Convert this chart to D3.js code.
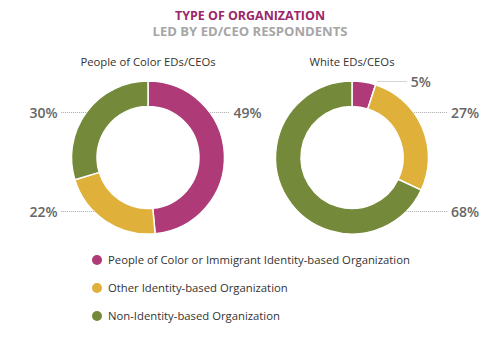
<!DOCTYPE html>
<html><head><meta charset="utf-8">
<script src="https://cdn.jsdelivr.net/npm/d3@7"></script>
<style>html,body{margin:0;padding:0;background:#fff;}svg{display:block;font-family:"Open Sans",sans-serif;}</style>
</head><body><svg id="c" width="500" height="360"></svg>
<script>
const categories = ["People of Color or Immigrant Identity-based Organization", "Other Identity-based Organization", "Non-Identity-based Organization"];
const groups = ["People of Color EDs/CEOs", "White EDs/CEOs"];
const pocValues = [49, 22, 30];
const whiteValues = [5, 27, 68];
const colors = ["#ae3a78", "#dfb03a", "#748a3a"];
const title = "TYPE OF ORGANIZATION";
const subtitle = "LED BY ED/CEO RESPONDENTS";

const svg = d3.select("#c");
svg.append("text").attr("x", 250).attr("y", 19.6).attr("text-anchor", "middle")
  .attr("font-size", 11.5).attr("font-weight", 700).attr("fill", "#9b2768")
  .attr("textLength", 150).attr("lengthAdjust", "spacingAndGlyphs").text(title);
svg.append("text").attr("x", 250).attr("y", 35.6).attr("text-anchor", "middle")
  .attr("font-size", 11.5).attr("font-weight", 700).attr("fill", "#a6a6a6")
  .attr("textLength", 195).attr("lengthAdjust", "spacingAndGlyphs").text(subtitle);

const color = d3.scaleOrdinal().domain(categories).range(colors);
const xPos = d3.scalePoint().domain(groups).range([148, 352]);
const cy = 157.5, R = 76.5, r = 51;
const pie = d3.pie().sort(null).value(d => d.v);
const arc = d3.arc().innerRadius(r).outerRadius(R);

[pocValues, whiteValues].forEach((vals, gi) => {
  const cx = xPos(groups[gi]);
  const g = svg.append("g").attr("transform", `translate(${cx},${cy})`);
  svg.append("text").attr("x", cx).attr("y", 66).attr("text-anchor", "middle")
    .attr("font-size", 11.3).attr("fill", "#333").text(groups[gi]);
  const arcs = pie(vals.map((v, i) => ({v, c: categories[i]})));
  g.selectAll("path").data(arcs).join("path")
    .attr("d", arc).attr("fill", d => color(d.data.c))
    .attr("stroke", "#fff").attr("stroke-width", 1.5);
  arcs.forEach(d => {
    const mid = (d.startAngle + d.endAngle) / 2;
    const raw = -Math.cos(mid) * 90;
    const dy = raw < -60 ? -76 : (raw < 0 ? -45 : 54);
    // right-hand chart keeps all labels on its outer (right) side
    const side = gi === 1 ? 1 : (Math.sin(mid) >= 0 ? 1 : -1);
    let sx, tx;
    if (Math.abs(dy) >= R - 2) {
      sx = R * Math.sin(d.endAngle) + 2;
      tx = sx + 33;
    } else {
      sx = side * Math.sqrt(R * R - dy * dy);
      tx = side * (R + (side > 0 ? (gi === 0 ? 9 : 22.5) : 14));
    }
    const ex = tx - side * 3.5;
    g.append("line").attr("x1", sx).attr("x2", ex).attr("y1", dy).attr("y2", dy)
      .attr("stroke", "#aaa").attr("stroke-width", 1).attr("stroke-dasharray", "1,1");
    g.append("text").attr("x", tx).attr("y", dy).attr("dy", "0.36em")
      .attr("text-anchor", side > 0 ? "start" : "end")
      .attr("font-size", 14).attr("font-weight", 600).attr("fill", "#666")
      .text(d.data.v + "%");
  });
});

const ly = d3.scalePoint().domain(categories).range([260, 316]);
const leg = svg.append("g");
categories.forEach(c => {
  leg.append("circle").attr("cx", 97).attr("cy", ly(c)).attr("r", 5).attr("fill", color(c));
  leg.append("text").attr("x", 108).attr("y", ly(c)).attr("dy", "0.35em")
    .attr("font-size", 11.3).attr("fill", "#333").text(c);
});
</script></body></html>
